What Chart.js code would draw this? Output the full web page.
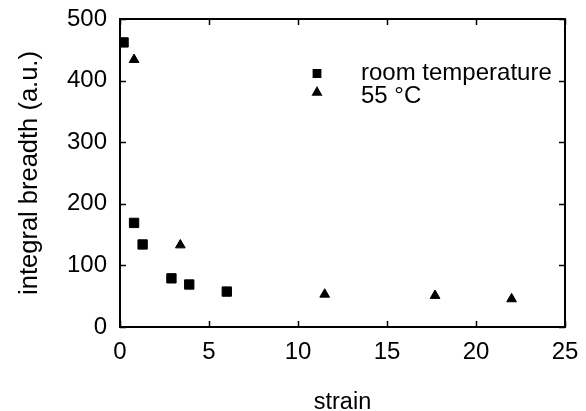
<!DOCTYPE html>
<html>
<head>
<meta charset="utf-8">
<script src="https://cdn.jsdelivr.net/npm/chart.js@4/dist/chart.umd.min.js"></script>
<style>
  html, body { margin: 0; padding: 0; background: #ffffff; }
  #wrap { width: 586px; height: 411px; position: relative; }
</style>
</head>
<body>
<div id="wrap"><canvas id="c" width="586" height="411"></canvas></div>
<script>
// ---- data ----
const strainRoom   = [0.2, 0.79, 1.27, 2.89, 3.89, 6.0];
const breadthRoom  = [462, 169, 134, 79, 69, 57.5];
const strain55     = [0.79, 3.39, 11.5, 17.7, 22.0];
const breadth55    = [434, 133, 53, 51, 45.5];
const seriesLabels = ['room temperature', '55 \u00B0C'];
const xTickValues  = [0, 5, 10, 15, 20, 25];
const yTickValues  = [0, 100, 200, 300, 400, 500];
const xTitle = 'strain';
const yTitle = 'integral breadth (a.u.)';

const FONT = "'Liberation Sans', Arial, sans-serif";

function toPoints(xs, ys) { return xs.map((x, i) => ({ x: x, y: ys[i] })); }

const frameTicks = {
  id: 'frameTicks',
  afterDraw(chart) {
    const ctx = chart.ctx;
    const a = chart.chartArea;
    const xs = chart.scales.x, ys = chart.scales.y;
    ctx.save();
    ctx.strokeStyle = '#000';
    ctx.lineWidth = 1.5;
    const tl = 6;
    ctx.beginPath();
    xTickValues.forEach(v => {
      const px = Math.round(xs.getPixelForValue(v)) + 0.5;
      ctx.moveTo(px, a.bottom); ctx.lineTo(px, a.bottom - tl);
      ctx.moveTo(px, a.top); ctx.lineTo(px, a.top + tl);
    });
    yTickValues.forEach(v => {
      const py = Math.round(ys.getPixelForValue(v)) + 0.5;
      ctx.moveTo(a.left, py); ctx.lineTo(a.left + tl, py);
      ctx.moveTo(a.right, py); ctx.lineTo(a.right - tl, py);
    });
    ctx.stroke();
    ctx.lineWidth = 2;
    ctx.strokeRect(a.left, a.top, a.right - a.left, a.bottom - a.top);

    // legend
    const ds = chart.data.datasets;
    const lx = 317, tx = 361;
    const rows = [{ my: 73.5, by: 80 }, { my: 92.5, by: 102.5 }];
    ctx.fillStyle = '#000';
    ctx.font = '24px ' + FONT;
    ctx.textBaseline = 'alphabetic';
    ctx.textAlign = 'left';
    ds.forEach((d, i) => {
      Chart.helpers.drawPoint(ctx, {
        pointStyle: d.pointStyle, radius: i === 0 ? 4.8 : 4.4, rotation: 0, borderWidth: 1
      }, lx, rows[i].my);
      ctx.fill();
      ctx.fillText(d.label, tx, rows[i].by);
    });
    ctx.restore();
  }
};

new Chart(document.getElementById('c'), {
  type: 'scatter',
  data: {
    datasets: [
      {
        label: seriesLabels[0],
        data: toPoints(strainRoom, breadthRoom),
        pointStyle: 'rect',
        pointRadius: 6.6,
        pointBorderWidth: 1,
        backgroundColor: '#000',
        borderColor: '#000'
      },
      {
        label: seriesLabels[1],
        data: toPoints(strain55, breadth55),
        pointStyle: 'triangle',
        pointRadius: 5.6,
        pointBorderWidth: 1,
        backgroundColor: '#000',
        borderColor: '#000'
      }
    ]
  },
  options: {
    responsive: false,
    animation: false,
    devicePixelRatio: 1,
    layout: { padding: { top: 19, right: 21, left: 0, bottom: 0 } },
    plugins: { legend: { display: false }, tooltip: { enabled: false } },
    scales: {
      x: {
        type: 'linear', min: 0, max: 25,
        afterFit(s) { s.height = 84; s.paddingLeft = 0; s.paddingRight = 0; },
        afterBuildTicks(s) { s.ticks = xTickValues.map(v => ({ value: v })); },
        grid: { display: false, drawTicks: false },
        border: { display: false },
        ticks: { color: '#000', padding: 11, font: { family: FONT, size: 24 } },
        title: { display: true, text: xTitle, color: '#000', padding: { top: 0, bottom: -6 }, font: { family: FONT, size: 23.5 } }
      },
      y: {
        type: 'linear', min: 0, max: 500,
        afterFit(s) { s.width = 120; s.paddingTop = 0; s.paddingBottom = 0; },
        afterBuildTicks(s) { s.ticks = yTickValues.map(v => ({ value: v })); },
        grid: { display: false, drawTicks: false },
        border: { display: false },
        ticks: { color: '#000', padding: 13, font: { family: FONT, size: 24 } },
        title: { display: true, text: yTitle, color: '#000', padding: { top: 14.5, bottom: 0 }, font: { family: FONT, size: 25.5 } }
      }
    }
  },
  plugins: [frameTicks]
});
</script>
</body>
</html>
